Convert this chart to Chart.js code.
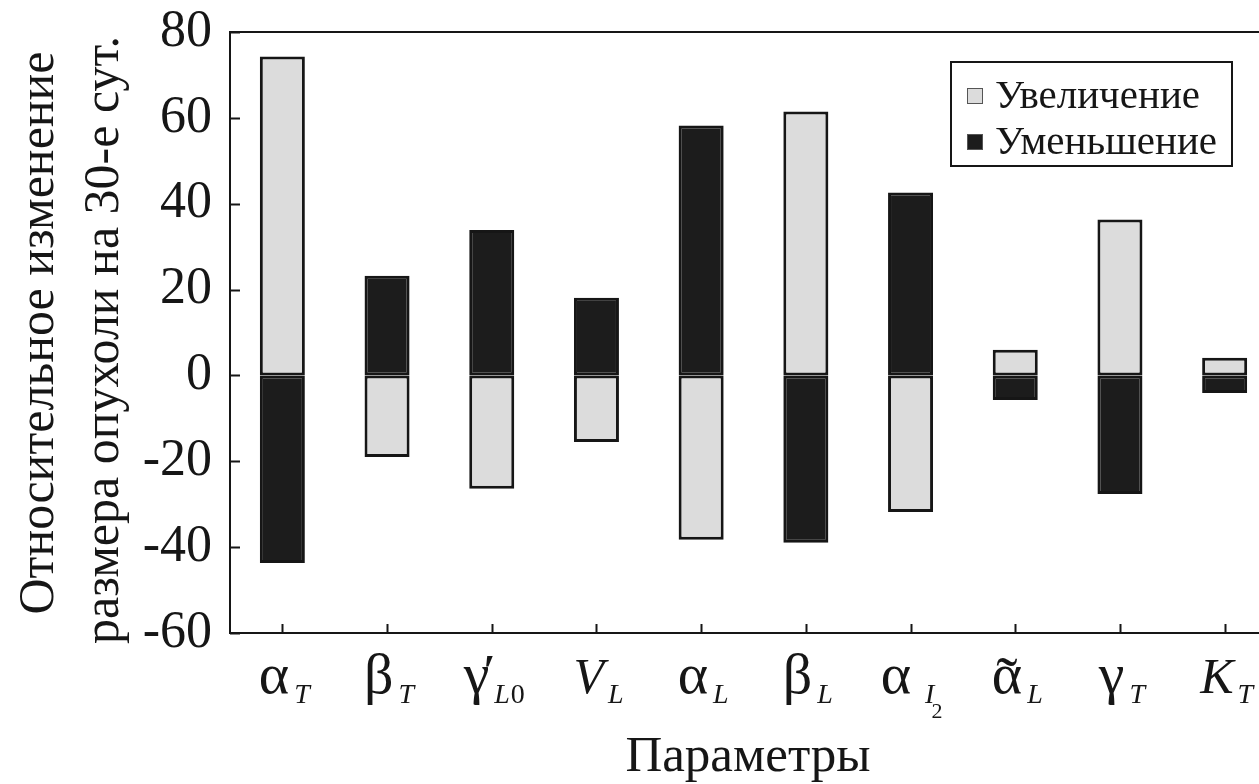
<!DOCTYPE html>
<html>
<head>
<meta charset="utf-8">
<script src="https://cdn.jsdelivr.net/npm/chart.js@4.4.1/dist/chart.umd.min.js"></script>
<style>
  html, body { margin: 0; padding: 0; background: #fff; overflow: hidden; }
  #wrap { width: 1290px; height: 784px; }
</style>
</head>
<body>
<div id="wrap"><canvas id="sens" width="1290" height="784"></canvas></div>
<script>
// parameter symbols: base letter, accent, subscript, second-level subscript
const paramBase = ['α', 'β', 'γ', 'V', 'α', 'β', 'α', 'α', 'γ', 'K'];
const paramItalic = [false, false, false, true, false, false, false, false, false, true];
const paramMark = ['', '', '′', '', '', '', '', '˜', '', ''];
const paramSub = ['T', 'T', 'L', 'L', 'L', 'L', 'I', 'L', 'T', 'T'];
const paramSubTail = ['', '', '0', '', '', '', '', '', '', ''];
const paramSubSub = ['', '', '', '', '', '', '2', '', '', ''];
const categories = paramBase.map((b, i) => b + paramMark[i] + paramSub[i] + paramSubTail[i] + paramSubSub[i]);

// relative change of tumour size on day 30, %
const increaseVals = [74.3, -19.0, -26.4, -15.5, -38.3, 61.5, -31.8, 6.0, 36.3, 4.1];
const decreaseVals = [-43.7, 23.2, 33.9, 18.1, 58.2, -39.0, 42.6, -5.7, -27.6, -4.1];

const yTicks = [80, 60, 40, 20, 0, -20, -40, -60];
const seriesNames = ['Увеличение', 'Уменьшение'];
const yTitle = ['Относительное изменение', 'размера опухоли на 30-е сут.'];
const xTitle = 'Параметры';

const LIGHT = '#dcdcdc';
const DARK = '#1c1c1c';
const INK = '#161616';
const SERIF = '"Liberation Serif", "DejaVu Serif", serif';

const decor = {
  id: 'decor',
  afterDraw(chart) {
    const { ctx, chartArea: a, scales: { x, y } } = chart;
    ctx.save();
    ctx.strokeStyle = INK;
    ctx.lineWidth = 2;

    // top edge of the frame
    ctx.beginPath();
    ctx.moveTo(a.left, a.top);
    ctx.lineTo(a.right, a.top);
    ctx.stroke();

    // inward tick marks
    ctx.beginPath();
    yTicks.forEach(v => {
      const py = Math.round(y.getPixelForValue(v)) + 0.5;
      ctx.moveTo(a.left, py);
      ctx.lineTo(a.left + 10, py);
    });
    categories.forEach((c, i) => {
      const px = Math.round(x.getPixelForValue(i)) + 0.5;
      ctx.moveTo(px, a.bottom);
      ctx.lineTo(px, a.bottom - 9);
    });
    ctx.stroke();

    // category symbols with subscripts
    ctx.fillStyle = INK;
    ctx.textBaseline = 'alphabetic';
    ctx.textAlign = 'left';
    const baseFont = it => (it ? 'italic 50px ' : '58px ') + SERIF;
    const subFont = it => (it ? 'italic ' : '') + '28px ' + SERIF;
    const baseY = 693;
    categories.forEach((c, i) => {
      ctx.font = baseFont(paramItalic[i]);
      const wb = ctx.measureText(paramBase[i]).width;
      ctx.font = subFont(true);
      const ws = ctx.measureText(paramSub[i]).width;
      ctx.font = subFont(false);
      const wt = ctx.measureText(paramSubTail[i]).width;
      const gap = paramSubSub[i] ? 14 : (paramItalic[i] ? 4 : 5);
      const wss = paramSubSub[i] ? 10 : 0;
      const total = wb + gap + ws + wt + wss;
      let px = x.getPixelForValue(i) + 2 - total / 2;

      ctx.font = baseFont(paramItalic[i]);
      ctx.fillText(paramBase[i], px, baseY);
      if (paramMark[i] === '˜') {
        ctx.font = '64px ' + SERIF;
        ctx.textAlign = 'center';
        ctx.fillText('˜', px + wb / 2, baseY + 8);
        ctx.textAlign = 'left';
      }
      if (paramMark[i] === '′') {
        ctx.font = 'bold 44px ' + SERIF;
        ctx.fillText('′', px + wb - 6, baseY - 8);
      }
      px += wb + gap;
      ctx.font = subFont(true);
      ctx.fillText(paramSub[i], px, baseY + 10);
      px += ws;
      if (paramSubTail[i]) {
        ctx.font = subFont(false);
        ctx.fillText(paramSubTail[i], px + 1, baseY + 10);
        px += wt;
      }
      if (paramSubSub[i]) {
        ctx.font = '22px ' + SERIF;
        ctx.fillText(paramSubSub[i], px - 3, baseY + 25);
      }
    });

    // axis titles
    ctx.font = '51px ' + SERIF;
    ctx.textAlign = 'center';
    ctx.fillText(xTitle, 748, 771);

    ctx.font = '50px ' + SERIF;
    ctx.textBaseline = 'middle';
    ctx.save();
    ctx.translate(40, 333);
    ctx.rotate(-Math.PI / 2);
    ctx.fillText(yTitle[0], 0, 0);
    ctx.restore();
    ctx.save();
    ctx.translate(105, 340);
    ctx.rotate(-Math.PI / 2);
    ctx.fillText(yTitle[1], 0, 0);
    ctx.restore();

    // legend box
    ctx.lineWidth = 2;
    ctx.strokeStyle = INK;
    ctx.strokeRect(951, 62, 281, 104);
    const fills = [LIGHT, DARK];
    const rowY = [95, 141];
    ctx.font = '41px ' + SERIF;
    ctx.textAlign = 'left';
    ctx.textBaseline = 'middle';
    seriesNames.forEach((name, k) => {
      ctx.fillStyle = fills[k];
      ctx.fillRect(967, rowY[k] - 7, 16, 16);
      ctx.lineWidth = 1;
      ctx.strokeStyle = '#555';
      ctx.strokeRect(967.5, rowY[k] - 6.5, 15, 15);
      ctx.fillStyle = INK;
      ctx.fillText(name, 995, rowY[k] + 2);
    });
    ctx.restore();
  }
};

new Chart(document.getElementById('sens'), {
  type: 'bar',
  data: {
    labels: categories,
    datasets: [
      {
        label: seriesNames[0],
        data: increaseVals,
        backgroundColor: LIGHT,
        borderColor: INK,
        borderWidth: 3,
        borderSkipped: false
      },
      {
        label: seriesNames[1],
        data: decreaseVals,
        backgroundColor: DARK,
        borderColor: INK,
        borderWidth: 3,
        borderSkipped: false
      }
    ]
  },
  options: {
    responsive: false,
    animation: false,
    barPercentage: 0.43,
    categoryPercentage: 1,
    layout: { padding: { top: 32, right: 13, left: 0, bottom: 0 } },
    plugins: {
      legend: { display: false },
      tooltip: { enabled: false }
    },
    scales: {
      x: {
        stacked: true,
        grid: { display: false, drawTicks: false },
        border: { display: true, color: INK, width: 2 },
        ticks: { display: false },
        afterFit(s) { s.height = 151; }
      },
      y: {
        stacked: true,
        min: -60,
        max: 80,
        grid: { display: false, drawTicks: false },
        border: { display: true, color: INK, width: 2 },
        ticks: {
          stepSize: 20,
          padding: 18,
          color: INK,
          font: { family: SERIF, size: 52 }
        },
        afterFit(s) {
          s.width = 230;
          s.paddingTop = 0;
          s.paddingBottom = 0;
        }
      }
    }
  },
  plugins: [decor]
});
</script>
</body>
</html>
